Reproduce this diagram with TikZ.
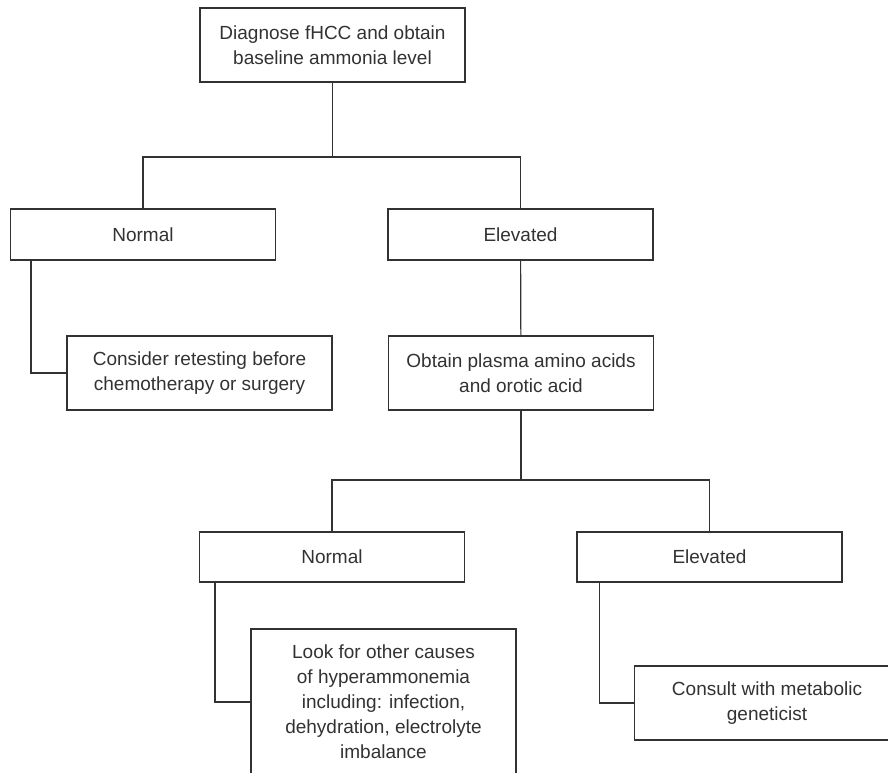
\documentclass[tikz,border=0pt]{standalone}
\usepackage{fontspec}
\setmainfont{Liberation Sans}
\usepackage{tikz}
\definecolor{ink}{RGB}{50, 50, 50}
\tikzset{
  box/.style={draw=ink, text=ink, align=center, inner sep=0pt,
    minimum width=265pt, font=\fontsize{19}{25}\selectfont},
}

\begin{document}
\begin{tikzpicture}[x=1pt, y=-1pt, line width=1.2pt, color=ink]

  \useasboundingbox (0, 0) rectangle (888, 772);
  \clip (0, 0) rectangle (888, 772);

  % first test
  \node[box, minimum height=74pt] (diag) at (332.5, 45)
    {Diagnose fHCC and obtain\\baseline ammonia level};
  \node[box, minimum height=51pt] (norm) at (143, 234.5) {Normal};
  \node[box, minimum height=51pt] (elev) at (520.5, 234.5) {Elevated};
  \node[box, minimum height=74pt] (retest) at (199.5, 373)
    {Consider retesting before\\chemotherapy or surgery};
  \node[box, minimum height=74pt] (amino) at (521, 373)
    {Obtain plasma amino acids\\and orotic acid};

  % second test
  \node[box, minimum height=50pt] (normtwo) at (332, 557) {Normal};
  \node[box, minimum height=50pt] (elevtwo) at (709.5, 557) {Elevated};
  \node[box, minimum height=146pt] (other) at (383.5, 702)
    {Look for other causes\\of hyperammonemia\\including: infection,\\dehydration, electrolyte\\imbalance};
  \node[box, minimum height=74pt] (consult) at (767, 703)
    {Consult with metabolic\\geneticist};

  \coordinate (splitone) at (332.5, 157);
  \coordinate (splittwo) at (521, 480);

  \draw (diag) -- (splitone);
  \draw (norm.north) |- (splitone) -| (elev.north);
  \draw ([xshift=21pt]norm.south west) |- (retest.west);
  \draw (elev) -- (amino);

  \draw (amino) -- (splittwo);
  \draw (normtwo.north) |- (splittwo) -| (elevtwo.north);
  \draw ([xshift=16pt]normtwo.south west) |- (other.west);
  \draw ([xshift=23pt]elevtwo.south west) |- (consult.west);

\end{tikzpicture}
\end{document}
